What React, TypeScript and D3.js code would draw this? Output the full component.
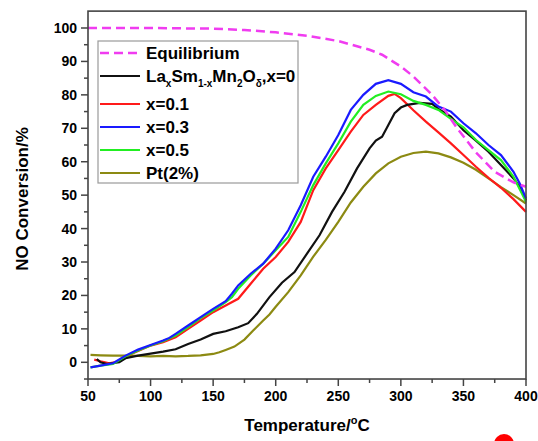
import React from "react";
import * as d3 from "d3";

type Pt = [number, number];

const xTicks = [50, 100, 150, 200, 250, 300, 350, 400];
const yTicks = [0, 10, 20, 30, 40, 50, 60, 70, 80, 90, 100];

const equilibrium: Pt[] = [
  [50, 100], [100, 100], [150, 99.8], [175, 99.4], [200, 98.7], [225, 97.7],
  [250, 96.1], [275, 93.5], [285, 92], [300, 88.5], [310, 85.5], [325, 80],
  [335, 75.5], [345, 70], [360, 62.8], [375, 57], [390, 53.8], [400, 52.5],
];

const x0: Pt[] = [
  [57, 1], [60, 0], [65, -0.5], [75, 0], [80, 1.2], [90, 2], [100, 2.6],
  [110, 3.2], [120, 3.9], [130, 5.5], [140, 6.8], [150, 8.5], [160, 9.3],
  [170, 10.5], [178, 11.7], [185, 14.5], [195, 19.5], [205, 23.8], [215, 27],
  [225, 32.5], [235, 38], [245, 45], [255, 51], [265, 58], [275, 64],
  [280, 66.3], [285, 67.5], [290, 71], [295, 74.5], [300, 76.2], [305, 77],
  [315, 77.6], [325, 77.3], [330, 75.8], [340, 73.5], [350, 69.4], [360, 66.3],
  [370, 63], [380, 59], [390, 55], [395, 52.5], [400, 48.5],
];

const x01: Pt[] = [
  [55, 0.8], [60, 0.3], [67, -0.3], [75, 0.3], [80, 1.7], [90, 3.4], [100, 5],
  [110, 6], [120, 7.5], [130, 10], [140, 12.5], [150, 15], [160, 17], [170, 19],
  [180, 23.5], [190, 28], [200, 31.5], [210, 36], [220, 42], [230, 51.5],
  [240, 58], [250, 63.5], [260, 69], [270, 74], [280, 77], [290, 79.7],
  [295, 80.3], [300, 79], [310, 75.4], [320, 72], [330, 68.8], [340, 65.5],
  [350, 62], [360, 58.5], [370, 55.2], [380, 52.2], [390, 48.8], [400, 45],
];

const x03: Pt[] = [
  [52, -1.5], [60, -1], [70, -0.3], [80, 2], [90, 3.8], [100, 5.2], [110, 6.5],
  [115, 7.3], [120, 8.5], [130, 11], [140, 13.5], [150, 16], [160, 18.3],
  [165, 20.5], [170, 23], [180, 26.5], [190, 29.5], [200, 34], [210, 39.5],
  [220, 47], [230, 55.5], [240, 61.5], [250, 68], [260, 75.5], [270, 80],
  [280, 83.3], [290, 84.4], [300, 83.3], [310, 80.8], [320, 79.5], [330, 76.5],
  [340, 75], [350, 71.5], [360, 68.5], [370, 65], [380, 62], [390, 57],
  [395, 53.5], [400, 49],
];

const x05: Pt[] = [
  [52, -1.5], [60, -1], [70, -0.5], [80, 1.8], [90, 3.5], [100, 5], [110, 6.3],
  [120, 8], [130, 10.5], [140, 13.2], [150, 15.5], [160, 18], [165, 19.5],
  [170, 22], [180, 26], [190, 29.5], [200, 33.5], [210, 37.5], [220, 45],
  [230, 53], [240, 59.5], [250, 65.5], [260, 72], [270, 77], [280, 79.7],
  [290, 81], [300, 80.2], [310, 78.2], [320, 77], [330, 75.5], [340, 72.8],
  [350, 70.3], [360, 66.5], [370, 63.5], [380, 60.5], [390, 55.5], [400, 48],
];

const pt2: Pt[] = [
  [52, 2.2], [60, 2.1], [70, 2], [80, 2], [90, 1.9], [100, 1.8], [110, 1.9],
  [120, 1.8], [130, 1.9], [140, 2.1], [150, 2.5], [155, 3], [160, 3.7],
  [167, 4.7], [175, 6.8], [182, 9.5], [190, 12.5], [195, 14.3], [200, 16.6],
  [210, 21], [220, 26], [230, 31.6], [240, 36.6], [250, 42], [260, 47.8],
  [270, 52.5], [280, 56.5], [290, 59.5], [300, 61.5], [310, 62.6], [320, 63],
  [330, 62.5], [340, 61.3], [350, 59.7], [360, 57.6], [370, 55], [380, 52.4],
  [390, 50], [400, 47.5],
];

const FONT = "Arial, 'Liberation Sans', sans-serif";

export default function App() {
  const x = d3.scaleLinear().domain([50, 400]).range([88, 526]);
  const y = d3.scaleLinear().domain([0, 100]).range([362.3, 28]);
  const line = d3
    .line<Pt>()
    .x((d) => x(d[0]))
    .y((d) => y(d[1]));

  const top = y(105.05);
  const bottom = y(-5);
  const minorX = d3.range(75, 400, 50);
  const minorY = d3.range(-5, 105, 10);

  const series = [
    { data: pt2, color: "#8c8a12" },
    { data: x01, color: "#ff1a1a" },
    { data: x0, color: "#111111" },
    { data: x05, color: "#22ee22" },
    { data: x03, color: "#1a1aff" },
  ];

  const legendY = [53, 76, 104, 127, 150, 173];
  const legendItems = [
    { color: "#f03cf0", dash: "9,5" },
    { color: "#111111" },
    { color: "#ff1a1a", label: "x=0.1" },
    { color: "#1a1aff", label: "x=0.3" },
    { color: "#22ee22", label: "x=0.5" },
    { color: "#8c8a12", label: "Pt(2%)" },
  ];

  return (
    <svg
      width={538}
      height={441}
      style={{ position: "absolute", left: 0, top: 0, background: "#fff" }}
      fontFamily={FONT}
      fontWeight="bold"
    >
      {/* curves */}
      {series.map((s, i) => (
        <path key={i} d={line(s.data) || ""} fill="none" stroke={s.color} strokeWidth={2.2} />
      ))}
      <path
        d={line(equilibrium) || ""}
        fill="none"
        stroke="#f03cf0"
        strokeWidth={2.5}
        strokeDasharray="9,5"
      />

      {/* frame */}
      <rect
        x={x(50)}
        y={top}
        width={x(400) - x(50)}
        height={bottom - top}
        fill="none"
        stroke="#444"
        strokeWidth={1.6}
      />

      {/* x ticks */}
      {xTicks.map((t) => (
        <g key={"xt" + t}>
          <line x1={x(t)} x2={x(t)} y1={bottom} y2={bottom + 7} stroke="#444" strokeWidth={1.5} />
          <text x={x(t)} y={bottom + 22} textAnchor="middle" fontSize={14}>
            {t}
          </text>
        </g>
      ))}
      {minorX.map((t) => (
        <line key={"xm" + t} x1={x(t)} x2={x(t)} y1={bottom} y2={bottom + 4} stroke="#444" strokeWidth={1.5} />
      ))}

      {/* y ticks */}
      {yTicks.map((t) => (
        <g key={"yt" + t}>
          <line x1={x(50) - 7} x2={x(50)} y1={y(t)} y2={y(t)} stroke="#444" strokeWidth={1.5} />
          <text x={77} y={y(t) + 5} textAnchor="end" fontSize={14}>
            {t}
          </text>
        </g>
      ))}
      {minorY.map((t) => (
        <line key={"ym" + t} x1={x(50) - 4} x2={x(50)} y1={y(t)} y2={y(t)} stroke="#444" strokeWidth={1.5} />
      ))}

      {/* axis titles */}
      <text
        transform="translate(28,199) rotate(-90)"
        textAnchor="middle"
        fontSize={17}
      >
        NO Conversion/%
      </text>
      <text x={307} y={431} textAnchor="middle" fontSize={17}>
        Temperature/
        <tspan fontSize={11} dy={-7}>o</tspan>
        <tspan dy={7}>C</tspan>
      </text>

      {/* legend */}
      <rect x={98} y={41} width={200} height={142} fill="#fff" stroke="#9a9a9a" strokeWidth={1.2} />
      {legendItems.map((it, i) => (
        <line
          key={"ll" + i}
          x1={100}
          x2={140}
          y1={legendY[i]}
          y2={legendY[i]}
          stroke={it.color}
          strokeWidth={i === 0 ? 2.5 : 2}
          strokeDasharray={it.dash}
        />
      ))}
      <text x={146} y={legendY[0] + 6} fontSize={17}>
        Equilibrium
      </text>
      <text x={146} y={legendY[1] + 6} fontSize={17}>
        La
        <tspan fontSize={10} dy={5}>x</tspan>
        <tspan dy={-5}>Sm</tspan>
        <tspan fontSize={10} dy={5}>1-x</tspan>
        <tspan dy={-5}>Mn</tspan>
        <tspan fontSize={10} dy={5}>2</tspan>
        <tspan dy={-5}>O</tspan>
        <tspan fontSize={10} dy={5}>δ</tspan>
        <tspan dy={-5}>,x=0</tspan>
      </text>
      {legendItems.slice(2).map((it, i) => (
        <text key={"lt" + i} x={146} y={legendY[i + 2] + 6} fontSize={17}>
          {it.label}
        </text>
      ))}

      {/* stray mark in the corner of the source image */}
      <circle cx={504} cy={444} r={10} fill="#ff0000" />
    </svg>
  );
}
